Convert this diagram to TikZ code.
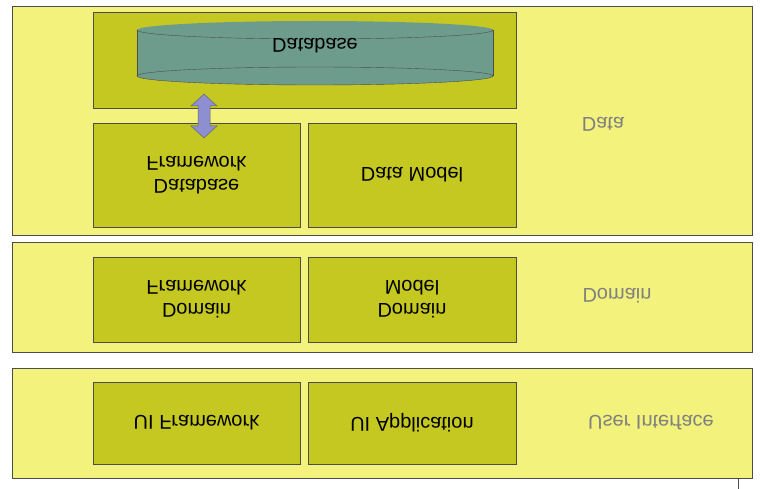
\documentclass[tikz,border=0pt]{standalone}
\usepackage{fontspec}
\setmainfont{Liberation Sans}
\usetikzlibrary{arrows.meta}
\definecolor{band}{HTML}{F2F27C}
\definecolor{olive}{HTML}{C6C822}
\definecolor{cyl}{HTML}{6E9C8C}
\definecolor{arr}{HTML}{8E8FD0}
\tikzset{
 bandbox/.style={draw=black!70,fill=band,line width=0.6pt},
 innerbox/.style={draw=black!70,fill=olive,line width=0.6pt},
 ftext/.style={yscale=-1,transform shape,font=\fontsize{20}{23}\selectfont,align=center},
 glabel/.style={ftext,text=black!50},
}
\begin{document}
\begin{tikzpicture}[x=1pt,y=-1pt]
\useasboundingbox (0,0) rectangle (761,489);
\draw[bandbox] (12,6) rectangle (752,235);
\draw[bandbox] (12,242) rectangle (752,352);
\draw[bandbox] (12,368) rectangle (752,478);
\draw[black!70] (738,478) -- (738,489);
\draw[innerbox] (93,12) rectangle (516,108);
% cylinder (flipped)
\fill[cyl] (137,30) rectangle (493,76);
\fill[cyl] (315,30) ellipse [x radius=178,y radius=9];
\fill[cyl] (315,76) ellipse [x radius=178,y radius=9];
\draw[black!70] (137,30) arc[start angle=180,end angle=360,x radius=178,y radius=-9];
\draw[black!70] (137,30) -- (137,76) (493,30) -- (493,76);
\draw[black!70] (315,76) ellipse [x radius=178,y radius=9];
\node[ftext] (db) at (315,46) {Database};
\node[innerbox,minimum width=207pt,minimum height=104pt,ftext] (dbf) at (196.5,175) {Database\\Framework};
\node[innerbox,minimum width=208pt,minimum height=104pt,ftext] (dm) at (412,175) {Data Model};
\node[innerbox,minimum width=207pt,minimum height=85pt,ftext] (df) at (196.5,299.5) {Domain\\Framework};
\node[innerbox,minimum width=208pt,minimum height=85pt,ftext] (dmo) at (412,299.5) {Domain\\Model};
\node[innerbox,minimum width=207pt,minimum height=82pt,ftext] (uif) at (196.5,423) {UI Framework};
\node[innerbox,minimum width=208pt,minimum height=82pt,ftext] (uia) at (412,423) {UI Application};
\draw[draw=black!60,fill=arr,line width=0.5pt] (204,94) -- (217,106) -- (210,106) -- (210,126) -- (217,126) -- (204,138) -- (191,126) -- (198,126) -- (198,106) -- (191,106) -- cycle;
\node[glabel] (ld) at (603,124) {Data};
\node[glabel] (ldo) at (617,296) {Domain};
\node[glabel] (lui) at (651,423) {User Interface};
\end{tikzpicture}
\end{document}
